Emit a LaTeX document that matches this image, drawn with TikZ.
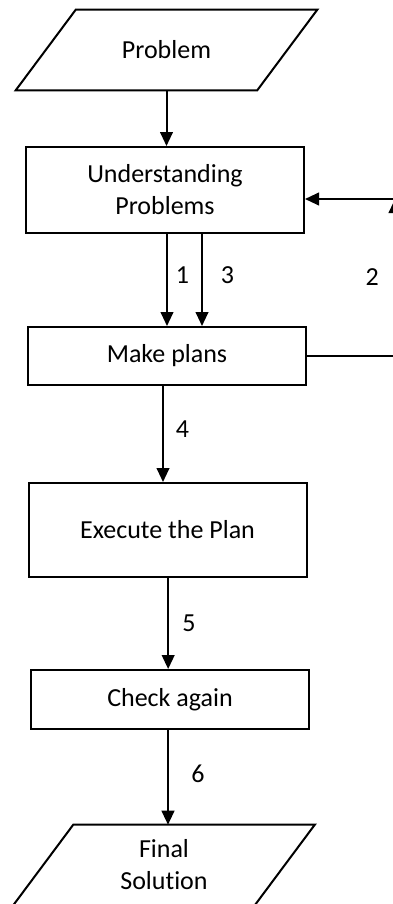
\documentclass[tikz,border=0pt]{standalone}
\usepackage{fontspec}
\setmainfont{Carlito}[Ligatures=NoCommon]
\usetikzlibrary{arrows.meta}

\begin{document}
\begin{tikzpicture}[x=0.75pt,y=-0.75pt,
    font=\fontsize{19.5}{24}\selectfont,
    box/.style={draw,line width=1.5pt,minimum width=208.5pt,align=center,inner sep=0pt},
    io/.style={minimum width=180.75pt,minimum height=60pt,align=center,inner sep=0pt},
    slant/.style={line width=1.5pt,line join=miter},
    arr/.style={-{Triangle[width=9.5pt,length=10.5pt]},line width=1.5pt},
    num/.style={midway,right}]
      % \draw[help lines](0,0) grid (393,904);
      \useasboundingbox (0,0) rectangle (393,904);
      \clip (0,0) rectangle (393,904);

      \node[io] (problem) at (166.5,50) {Problem};
      \node[box,minimum height=64.5pt] (under) at (165,190) {Understanding\\Problems};
      \node[box,minimum height=43.5pt] (plan) at (167,356) {Make plans};
      \node[box,minimum height=70.5pt] (exec) at (167.5,530) {Execute the Plan};
      \node[box,minimum height=44.25pt] (check) at (170,699.5) {Check again};
      \node[io] (final) at (164,865) {Final\\Solution};
      \coordinate (loopbot) at (395,356);
      \coordinate (looptop) at (395,199);

      % parallelograms
      \draw[slant] ([xshift=-22.5pt]problem.south west) -- ([xshift=22.5pt]problem.north west)
        -- ([xshift=22.5pt]problem.north east) -- ([xshift=-22.5pt]problem.south east) -- cycle;
      \draw[slant] ([xshift=-22.5pt]final.south west) -- ([xshift=22.5pt]final.north west)
        -- ([xshift=22.5pt]final.north east) -- ([xshift=-22.5pt]final.south east) -- cycle;

      \draw[arr] (problem.south) -- (problem.south |- under.north);
      \draw[arr] ([xshift=1.5pt]under.south) -- ([xshift=1.5pt]under.south |- plan.north)
        node[num,xshift=2.5pt,yshift=3.5pt] {1};
      \draw[arr] ([xshift=27.75pt]under.south) -- ([xshift=27.75pt]under.south |- plan.north)
        node[num,xshift=10pt,yshift=3.5pt] {3};
      \draw[arr] ([xshift=-3pt]plan.south) -- ([xshift=-3pt]plan.south |- exec.north)
        node[num,xshift=5.5pt,yshift=4pt] {4};
      \draw[arr] ([xshift=0.5pt]exec.south) -- ([xshift=0.5pt]exec.south |- check.north)
        node[num,xshift=6.5pt] {5};
      \draw[arr] ([xshift=-1.5pt]check.south) -- ([xshift=-1.5pt]check.south |- final.north)
        node[num,xshift=13.5pt,yshift=3pt] {6};

      % loop back
      \draw[line width=0.8pt] (plan.east) -- (loopbot);
      \draw[arr] (loopbot) -- (looptop) node[midway,left,xshift=-8pt] {2};
      \draw[arr] (looptop) -- ([yshift=-6.75pt]under.east);
    \end{tikzpicture}
\end{document}
